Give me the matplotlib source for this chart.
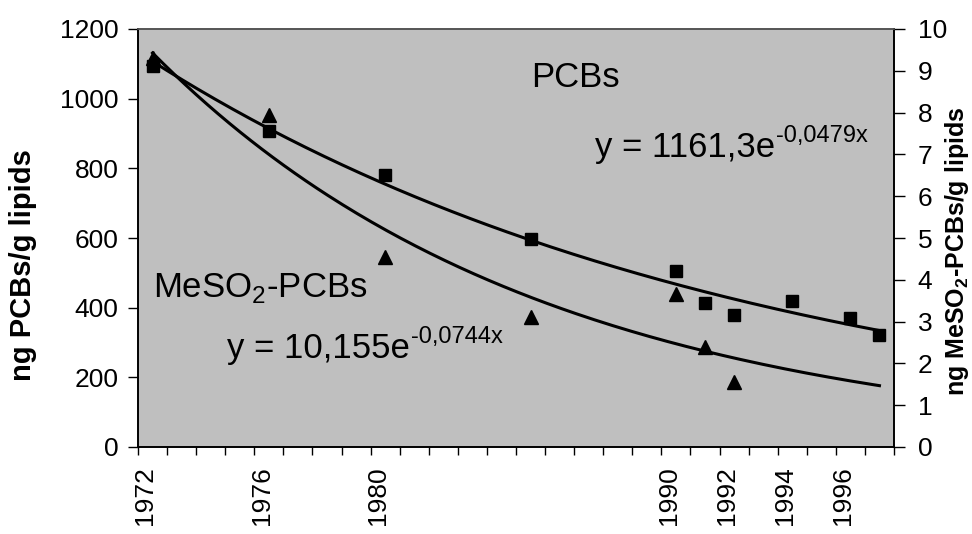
import numpy as np
import matplotlib.pyplot as plt

plt.rcParams['font.family'] = ['Liberation Sans', 'DejaVu Sans']
plt.rcParams['mathtext.fontset'] = 'custom'
plt.rcParams['mathtext.rm'] = 'Liberation Sans'
plt.rcParams['mathtext.bf'] = 'Liberation Sans:bold'

# PCBs (ng/g lipids), left axis
pcb_years = [1972, 1976, 1980, 1985, 1990, 1991, 1992, 1994, 1996, 1997]
pcb_values = [1095, 907, 781, 597, 505, 413, 379, 419, 370, 322]

# MeSO2-PCBs (ng/g lipids), right axis
meso2_years = [1972, 1976, 1980, 1985, 1990, 1991, 1992]
meso2_values = [9.3, 7.95, 4.55, 3.1, 3.65, 2.4, 1.55]

# exponential trendlines y = a*exp(b*x), x = year index (1972 -> 1)
pcb_fit = (1161.3, -0.0479)
meso2_fit = (10.155, -0.0744)

first_year, last_year = 1972, 1997
label_years = [1972, 1976, 1980, 1990, 1992, 1994, 1996]

fig = plt.figure(figsize=(9.72, 5.34), dpi=100)
ax = fig.add_axes([138 / 972, 1 - 447 / 534, (894 - 138) / 972, (447 - 29) / 534])
ax2 = ax.twinx()

ax.set_facecolor('#bfbfbf')
ax.set_xlim(first_year - 0.5, last_year + 0.5)
ax.set_ylim(0, 1200)
ax2.set_ylim(0, 10)

# trendlines
idx = np.linspace(1, last_year - first_year + 1, 200)
yrs = first_year - 1 + idx
ax.plot(yrs, pcb_fit[0] * np.exp(pcb_fit[1] * idx), color='black', lw=2.2)
ax2.plot(yrs, meso2_fit[0] * np.exp(meso2_fit[1] * idx), color='black', lw=2.2)

# measured values
ax.plot(pcb_years, pcb_values, 's', color='black', ms=9)
ax2.plot(meso2_years, meso2_values, '^', color='black', ms=9.5)

# x axis: a tick between every year, labels only on some years
ax.set_xticks(np.arange(first_year - 0.5, last_year + 1), minor=True)
ax.set_xticks([y - 0.25 for y in label_years])
ax.set_xticklabels([str(y) for y in label_years], rotation=90)
ax.tick_params(axis='x', which='major', length=0, pad=14, labelsize=19)
ax.tick_params(axis='x', which='minor', length=6, width=1, direction='out')

ax.set_yticks(range(0, 1201, 200))
ax.tick_params(axis='y', length=7, width=1, direction='out', pad=7, labelsize=19)
ax2.set_yticks(range(0, 11))
ax2.tick_params(axis='y', length=8, width=1, direction='out', pad=9, labelsize=19)

for a in (ax, ax2):
    for s in a.spines.values():
        s.set_linewidth(1.2)
    a.spines['top'].set_color('#555555')

ax.set_ylabel('ng PCBs/g lipids', fontsize=21, fontweight='bold')
ax.yaxis.set_label_coords(-0.133, 0.436)
ax2.set_ylabel(r'ng MeSO$_\mathbf{2}$-PCBs/g lipids', fontsize=18, fontweight='bold')
ax2.yaxis.set_label_coords(1.065, 0.469)

# series names and fitted equations
ax.text(0.578, 0.883, 'PCBs', transform=ax.transAxes, fontsize=25,
        ha='center', va='center')
eq1 = ax.text(0.604, 0.694, 'y = 1161,3e', transform=ax.transAxes, fontsize=25,
              ha='left', va='baseline')
ax.annotate('-0,0479x', xy=(1, 0), xycoords=eq1, xytext=(1, 16),
            textcoords='offset points', fontsize=17, ha='left', va='baseline')

ax.text(0.020, 0.359, r'MeSO$_2$-PCBs', transform=ax.transAxes, fontsize=25,
        ha='left', va='baseline')
eq2 = ax.text(0.118, 0.213, 'y = 10,155e', transform=ax.transAxes, fontsize=25,
              ha='left', va='baseline')
ax.annotate('-0,0744x', xy=(1, 0), xycoords=eq2, xytext=(1, 16),
            textcoords='offset points', fontsize=17, ha='left', va='baseline')

fig.savefig('out.png', dpi=100)
